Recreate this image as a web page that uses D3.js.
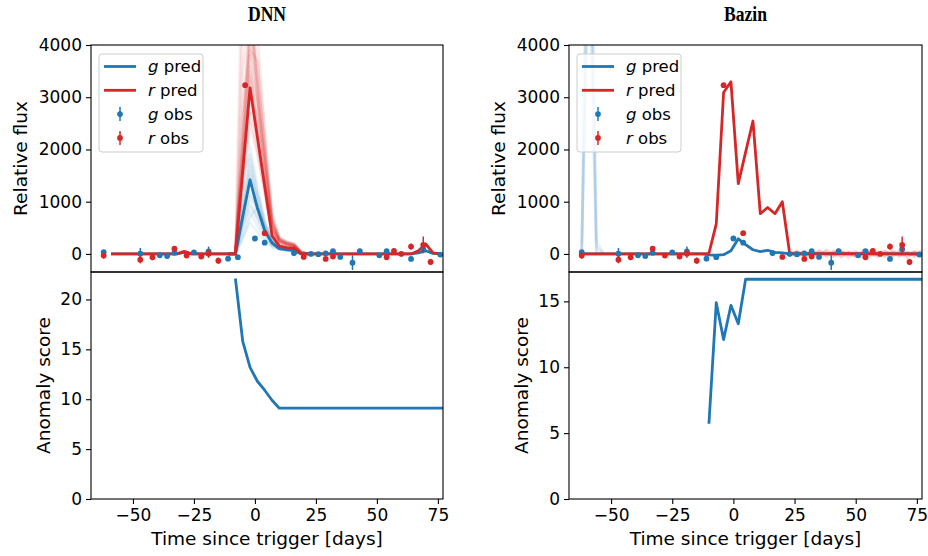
<!DOCTYPE html>
<html><head><meta charset="utf-8">
<script src="https://cdn.jsdelivr.net/npm/d3@7"></script>
<style>body{margin:0;background:#fff}svg{display:block;font-family:"DejaVu Sans",sans-serif}</style>
</head><body><svg id="c" width="928" height="556"></svg>
<script>
// ---------------- DATA ----------------
const panelTitles = ["DNN", "Bazin"];
const xTicks = [-50, -25, 0, 25, 50, 75];
const fluxTicks = [0, 1000, 2000, 3000, 4000];
const scoreTicksDNN = [0, 5, 10, 15, 20];
const scoreTicksBazin = [0, 5, 10, 15];

// observations (shared by both panels)
const gObsT = [-62, -47, -39, -36, -33, -25, -19, -11, -7, 0, 4, 16, 23, 26, 29, 32, 35, 40, 43, 51, 54, 64, 69, 76];
const gObsF = [33, 5, -25, -40, 20, 30, 50, -90, -63, 295, 215, 13, 0, -5, 10, 51, -58, -167, 51, -26, 51, -96, 90, -13];
const gObsE = [40, 110, 30, 30, 30, 30, 90, 30, 30, 30, 30, 30, 30, 30, 30, 30, 30, 140, 50, 30, 40, 40, 70, 30];
const rObsT = [-62, -47, -42, -33, -28, -22, -19, -15, -4, 4, 20, 29, 32, 54, 57, 60, 64, 69, 72];
const rObsF = [-32, -110, -63, 100, -32, -50, 5, -130, 3230, 398, -58, -96, -51, -64, 58, 0, 141, 173, -154];
const rObsE = [60, 70, 60, 40, 40, 40, 80, 60, 40, 40, 30, 30, 30, 30, 30, 30, 60, 160, 60];

// DNN predictions
const dnnPredT = [-59, -32, -29, -26, -8, -5, -2, 1, 4, 7, 10, 13, 16, 19, 64, 67, 70, 73, 76];
const dnnPredG = [0, 0, 30, 0, 0, 710, 1420, 880, 450, 210, 100, 85, 70, 0, 0, 20, 60, 10, 0];
const dnnPredR = [0, 0, 50, 0, 0, 1590, 3180, 2240, 1300, 350, 150, 120, 110, 0, 0, 60, 190, 20, 0];
const dnnSampT = [-11, -8, -5, -2, 1, 4, 7, 10, 13, 16, 19, 22];
const dnnSampR = [
  [0, 0, 1250, 2500, 1900, 1150, 420, 220, 170, 140, 20, 0],
  [0, 0, 1450, 2900, 2150, 1300, 450, 200, 180, 150, 10, 0],
  [0, 0, 1700, 3400, 2500, 1500, 500, 240, 190, 160, 30, 0],
  [0, 0, 1900, 3800, 2800, 1700, 560, 260, 200, 170, 20, 0],
  [0, 0, 2100, 4200, 3100, 1850, 600, 270, 210, 180, 30, 0],
  [0, 0, 2300, 4600, 3400, 2000, 640, 280, 220, 190, 20, 0],
  [0, 0, 1550, 3100, 2600, 1650, 520, 210, 160, 130, 10, 0],
  [0, 0, 1800, 3600, 2350, 1400, 470, 250, 200, 160, 30, 0],
  [0, 0, 2000, 4000, 3000, 1800, 580, 260, 190, 150, 20, 0],
  [0, 0, 1350, 2700, 2000, 1200, 400, 190, 150, 120, 10, 0],
  [0, 0, 2200, 4400, 3300, 2100, 700, 300, 230, 200, 40, 0],
  [0, 0, 1650, 3300, 2400, 1350, 480, 230, 180, 140, 20, 0],
  [0, 0, 4500, 5200, 3000, 1600, 500, 250, 180, 150, 20, 0],
  [0, 0, 3500, 4800, 3600, 2000, 650, 280, 200, 160, 20, 0],
  [0, 0, 2800, 4300, 4200, 2300, 700, 300, 220, 180, 30, 0],
  [0, 0, 6000, 4700, 3200, 1700, 550, 260, 190, 160, 20, 0],
  [0, 0, 2600, 3900, 3700, 2400, 800, 320, 240, 200, 40, 0],
  [0, 0, 1900, 3500, 2900, 1900, 620, 290, 210, 170, 20, 0]
];
const dnnSampG = [
  [0, 0, 300, 600, 420, 240, 120, 80, 60, 50, 10, 0],
  [0, 0, 400, 800, 540, 300, 150, 90, 70, 60, 10, 0],
  [0, 0, 500, 1000, 660, 360, 170, 100, 80, 60, 10, 0],
  [0, 0, 600, 1200, 780, 400, 190, 110, 90, 70, 10, 0],
  [0, 0, 700, 1400, 900, 460, 210, 120, 90, 70, 10, 0],
  [0, 0, 800, 1600, 1020, 520, 230, 130, 100, 80, 10, 0],
  [0, 0, 900, 1800, 1150, 580, 250, 140, 110, 80, 10, 0],
  [0, 0, 1000, 2050, 1300, 650, 270, 150, 110, 90, 10, 0],
  [0, 0, 650, 1100, 900, 500, 230, 110, 80, 60, 10, 0],
  [0, 0, 750, 1500, 1100, 560, 220, 120, 90, 70, 10, 0],
  [0, 0, 850, 1700, 950, 420, 180, 100, 80, 60, 10, 0],
  [0, 0, 550, 900, 700, 420, 200, 100, 80, 60, 10, 0],
  [0, 0, 1500, 1900, 1200, 600, 260, 140, 100, 80, 10, 0],
  [0, 0, 300, 700, 900, 550, 250, 130, 90, 70, 10, 0]
];

// Bazin predictions
const bazPredT = [-62, -13, -10, -7, -4, -1, 2, 5, 8, 11, 14, 17, 20, 23, 77];
const bazPredG = [0, 0, -20, -25, -15, 60, 290, 180, 80, 45, 70, 30, 20, 0, 0];
const bazPredR = [0, 0, 10, 577, 3090, 3295, 1346, 1950, 2545, 770, 890, 770, 1000, 10, 0];
const bazSampGT = [-62, -59, -56, -53];
const bazSampG = [
  [0, 6000, 0, 0],
  [50, 7500, 150, 0],
  [0, 9000, 300, 0],
  [100, 5500, 0, 0],
  [0, 8000, 200, 0],
  [200, 6500, 0, 0],
  [0, 12000, 100, 0]
];
const bazSampRT = [23, 26, 29, 32, 35, 38, 41, 44, 47, 50, 53, 56, 59, 62, 65, 68, 71, 74, 77];
const bazSampR = [
  [0, 40, -30, 60, -20, 50, -60, 20, 40, -30, 70, -50, 10, 60, -40, 30, -70, 50, 20],
  [10, -50, 30, -40, 70, -30, 40, -60, 20, 50, -40, 30, -60, 20, 50, -30, 40, -20, 60],
  [-20, 60, -50, 20, -40, 80, -20, 40, -70, 30, -20, 60, -30, 50, -10, 70, -50, 30, -40],
  [0, -20, 50, -60, 30, -10, 60, -40, 30, -50, 40, -20, 50, -40, 30, -60, 20, -30, 50],
  [30, 20, -60, 40, 10, -50, 30, 60, -20, 10, -60, 40, 20, -50, 60, -20, 10, 40, -30],
  [-10, 30, 20, -40, 50, 10, -30, 40, -10, -40, 30, 50, -20, 10, -50, 40, 30, -60, 10]
];

// anomaly scores
const dnnScoreT = [-8, -5, -2, 1, 4, 7, 10, 79];
const dnnScore = [22.1, 15.8, 13.2, 11.8, 10.9, 9.9, 9.1, 9.1];
const bazScoreT = [-10, -7, -4, -1, 2, 5, 79];
const bazScore = [5.71, 14.9, 12.1, 14.7, 13.3, 16.68, 16.68];

// ---------------- DRAW ----------------
const BLUE = "#1f77b4", RED = "#d62728";
const svg = d3.select("#c");
const defs = svg.append("defs");
const xDomain = [-67.2, 77.1];
const fluxDomain = [-346, 4000];
const TOP = [45, 272], BOT = [272, 499];
const minus = d => d < 0 ? "\u2212" + Math.abs(d) : String(d);

const panels = [
  {title: panelTitles[0], left: 91, right: 443, labA: 27, labB: 50,
   predT: dnnPredT, predG: dnnPredG, predR: dnnPredR,
   samples: [{t: dnnSampT, rows: dnnSampG, c: BLUE, op: 0.09}, {t: dnnSampT, rows: dnnSampR, c: RED, op: 0.1}],
   scoreT: dnnScoreT, score: dnnScore, scoreTicks: scoreTicksDNN},
  {title: panelTitles[1], left: 569, right: 922, labA: 505, labB: 528,
   predT: bazPredT, predG: bazPredG, predR: bazPredR,
   samples: [{t: bazSampGT, rows: bazSampG, c: BLUE, op: 0.06}, {t: bazSampRT, rows: bazSampR, c: RED, op: 0.14}],
   scoreT: bazScoreT, score: bazScore, scoreTicks: scoreTicksBazin}
];

panels.forEach((p, pi) => {
  const x = d3.scaleLinear().domain(xDomain).range([p.left, p.right]);
  const yF = d3.scaleLinear().domain(fluxDomain).range([TOP[1], TOP[0]]);
  const sMax = d3.max(p.score), sMin = d3.min(p.score);
  const yS = d3.scaleLinear().domain([0, sMax + 0.05 * (sMax - sMin)]).range([BOT[1], BOT[0]]);

  defs.append("clipPath").attr("id", "ct" + pi).append("rect")
    .attr("x", p.left).attr("y", TOP[0]).attr("width", p.right - p.left).attr("height", TOP[1] - TOP[0]);
  defs.append("clipPath").attr("id", "cb" + pi).append("rect")
    .attr("x", p.left).attr("y", BOT[0]).attr("width", p.right - p.left).attr("height", BOT[1] - BOT[0]);

  // title
  const cx = (p.left + p.right) / 2;
  svg.append("text").attr("transform", `translate(${cx},21) scale(0.86,1)`)
    .attr("text-anchor", "middle").attr("font-family", "Liberation Serif, serif")
    .attr("font-weight", "bold").attr("font-size", 20.5).text(p.title);

  const gt = svg.append("g").attr("clip-path", `url(#ct${pi})`);
  // samples
  p.samples.forEach(s => {
    s.rows.forEach(row => {
      const ln = d3.line().x((d, i) => x(s.t[i])).y(d => yF(d));
      gt.append("path").attr("d", ln(row)).attr("fill", "none")
        .attr("stroke", s.c).attr("stroke-width", 2.8).attr("stroke-opacity", s.op)
        .attr("stroke-linejoin", "round");
    });
  });
  // predictions
  const pl = d3.line().x((d, i) => x(p.predT[i])).y(d => yF(d));
  gt.append("path").attr("d", pl(p.predG)).attr("fill", "none").attr("stroke", BLUE).attr("stroke-width", 2.8).attr("stroke-linejoin", "round");
  gt.append("path").attr("d", pl(p.predR)).attr("fill", "none").attr("stroke", RED).attr("stroke-width", 2.8).attr("stroke-linejoin", "round");
  // observations
  [[gObsT, gObsF, gObsE, BLUE], [rObsT, rObsF, rObsE, RED]].forEach(([T, F, E, c]) => {
    T.forEach((t, i) => {
      gt.append("line").attr("x1", x(t)).attr("x2", x(t))
        .attr("y1", yF(F[i] - E[i])).attr("y2", yF(F[i] + E[i]))
        .attr("stroke", c).attr("stroke-width", 1.5);
      gt.append("circle").attr("cx", x(t)).attr("cy", yF(F[i])).attr("r", 2.9).attr("fill", c);
    });
  });

  // score
  const gb = svg.append("g").attr("clip-path", `url(#cb${pi})`);
  const sl = d3.line().x((d, i) => x(p.scoreT[i])).y(d => yS(d));
  gb.append("path").attr("d", sl(p.score)).attr("fill", "none").attr("stroke", BLUE).attr("stroke-width", 2.8).attr("stroke-linejoin", "round");

  // axes
  const styleAxis = g => {
    g.select(".domain").remove();
    g.selectAll(".tick line").attr("stroke", "#000").attr("stroke-width", 1.1);
    g.selectAll(".tick text").attr("font-size", 17).attr("font-family", "DejaVu Sans, sans-serif").attr("fill", "#000");
  };
  svg.append("g").attr("transform", `translate(${p.left},0)`)
    .call(d3.axisLeft(yF).tickValues(fluxTicks).tickSize(5).tickPadding(4).tickFormat(minus)).call(styleAxis);
  svg.append("g").attr("transform", `translate(${p.left},0)`)
    .call(d3.axisLeft(yS).tickValues(p.scoreTicks).tickSize(5).tickPadding(4).tickFormat(minus)).call(styleAxis);
  svg.append("g").attr("transform", `translate(0,${BOT[1]})`)
    .call(d3.axisBottom(x).tickValues(xTicks).tickSize(5).tickPadding(5).tickFormat(minus)).call(styleAxis);

  // spines
  [[TOP[0], TOP[1]], [BOT[0], BOT[1]]].forEach(([a, b]) => {
    svg.append("rect").attr("x", p.left).attr("y", a).attr("width", p.right - p.left).attr("height", b - a)
      .attr("fill", "none").attr("stroke", "#000").attr("stroke-width", 1.1);
  });

  // axis labels
  svg.append("text").attr("transform", `translate(${p.labA},${(TOP[0] + TOP[1]) / 2}) rotate(-90)`)
    .attr("text-anchor", "middle").attr("font-size", 18.5).text("Relative flux");
  svg.append("text").attr("transform", `translate(${p.labB},${(BOT[0] + BOT[1]) / 2}) rotate(-90)`)
    .attr("text-anchor", "middle").attr("font-size", 18.5).text("Anomaly score");
  svg.append("text").attr("x", cx).attr("y", 545)
    .attr("text-anchor", "middle").attr("font-size", 18.5).text("Time since trigger [days]");

  // legend
  const lg = svg.append("g").attr("transform", `translate(${p.left + 8},54)`);
  lg.append("rect").attr("x", 0).attr("y", 0).attr("width", 104).attr("height", 98).attr("rx", 3)
    .attr("fill", "#fff").attr("fill-opacity", 0.8).attr("stroke", "#cccccc").attr("stroke-width", 1);
  const entries = [["g", " pred", BLUE, "line"], ["r", " pred", RED, "line"], ["g", " obs", BLUE, "obs"], ["r", " obs", RED, "obs"]];
  entries.forEach(([sym, txt, c, kind], i) => {
    const cy = 12.5 + i * 23.8;
    if (kind === "line") {
      lg.append("line").attr("x1", 5).attr("x2", 37).attr("y1", cy).attr("y2", cy).attr("stroke", c).attr("stroke-width", 2.8);
    } else {
      lg.append("line").attr("x1", 21).attr("x2", 21).attr("y1", cy - 7).attr("y2", cy + 7).attr("stroke", c).attr("stroke-width", 1.5);
      lg.append("circle").attr("cx", 21).attr("cy", cy).attr("r", 2.9).attr("fill", c);
    }
    const t = lg.append("text").attr("x", 49).attr("y", cy).attr("dy", "0.35em").attr("font-size", 16.5);
    t.append("tspan").attr("font-style", "italic").text(sym);
    t.append("tspan").text(txt);
  });
});
</script></body></html>
